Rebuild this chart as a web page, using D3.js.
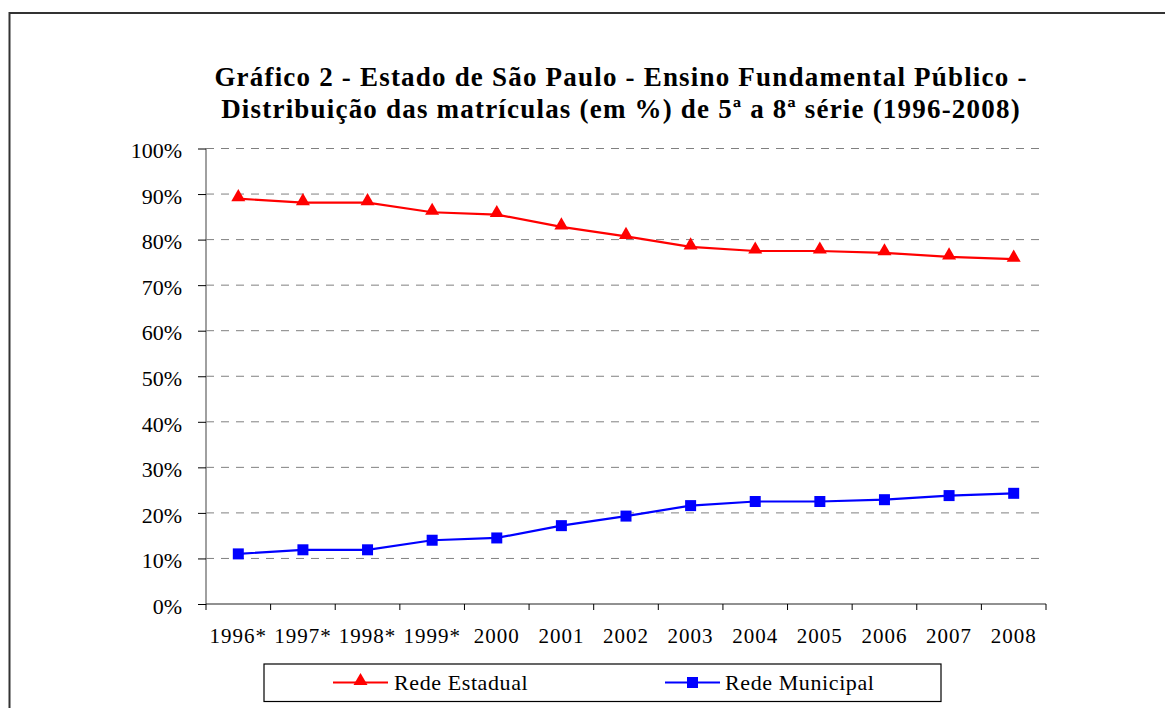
<!DOCTYPE html>
<html><head><meta charset="utf-8">
<script src="https://cdn.jsdelivr.net/npm/d3@7"></script>
<style>body{margin:0;background:#fff;} svg{display:block;}</style>
</head><body>
<svg id="c" width="1165" height="708"></svg>
<script>
const categories = ["1996*","1997*","1998*","1999*","2000","2001","2002","2003","2004","2005","2006","2007","2008"];
const estadual = [89.0, 88.1, 88.1, 86.0, 85.5, 82.8, 80.7, 78.4, 77.5, 77.5, 77.1, 76.2, 75.7];
const municipal = [11.0, 11.9, 11.9, 14.0, 14.5, 17.2, 19.3, 21.6, 22.5, 22.5, 22.9, 23.8, 24.3];
const yTicks = [0,10,20,30,40,50,60,70,80,90,100];
const titleLines = ["Gráfico 2 - Estado de São Paulo - Ensino Fundamental Público -",
                    "Distribuição das matrículas (em %) de 5ª a 8ª série (1996-2008)"];
const seriesNames = ["Rede Estadual","Rede Municipal"];

const svg = d3.select("#c");
const font = "'Liberation Serif','Times New Roman',serif";
const L = 206, R = 1046, T = 148.5, B = 604;

// outer frame
svg.append("path").attr("d", `M9.5,708 L9.5,13 L1165,13`).attr("fill","none")
  .attr("stroke","#333").attr("stroke-width",2);

// title
svg.selectAll("text.title").data(titleLines).join("text")
  .attr("x", 621).attr("y", (d,i)=>86 + i*32)
  .attr("text-anchor","middle").attr("font-family",font).attr("font-weight","bold")
  .attr("font-size",27).attr("letter-spacing","1.2px").text(d=>d);

const x = d3.scaleBand().domain(categories).range([L,R]);
const y = d3.scaleLinear().domain([0,100]).range([B,T]);

// gridlines
svg.append("g").selectAll("line").data(yTicks.filter(d=>d>0)).join("line")
  .attr("x1",L).attr("x2",R).attr("y1",d=>y(d)).attr("y2",d=>y(d))
  .attr("stroke","#808080").attr("stroke-width",1).attr("stroke-dasharray","8,7");

// y axis
const yAx = svg.append("g").attr("transform",`translate(${L},0)`)
  .call(d3.axisLeft(y).tickValues(yTicks).tickSize(8).tickPadding(16).tickFormat(d=>d+"%"));
yAx.select(".domain").attr("stroke","#808080").attr("stroke-width",1.5).attr("d",`M0,${T}V${B}`);
yAx.selectAll(".tick line").attr("stroke","#000");
yAx.selectAll("text").attr("font-family",font).attr("font-size",22).attr("fill","#000").attr("dy","0.42em");

// x axis
const xAx = svg.append("g").attr("transform",`translate(0,${B})`)
  .call(d3.axisBottom(x).tickSize(0).tickPadding(24));
xAx.select(".domain").attr("stroke","#222").attr("stroke-width",1).attr("d",`M${L},0H${R}`);
xAx.selectAll("text").attr("font-family",font).attr("font-size",21).attr("letter-spacing","1px").attr("fill","#000");
// category boundary ticks
const bounds = categories.map(c=>x(c)).concat([R]);
svg.append("g").selectAll("line").data(bounds).join("line")
  .attr("x1",d=>d).attr("x2",d=>d).attr("y1",B).attr("y2",B+6)
  .attr("stroke","#000").attr("stroke-width",1);

const cx = c => x(c) + x.bandwidth()/2;
const line = d3.line().x((d,i)=>cx(categories[i])).y(d=>y(d));

// Estadual
svg.append("path").datum(estadual).attr("d",line).attr("fill","none")
  .attr("stroke","#ff0000").attr("stroke-width",2.2);
const tri = d3.symbol().type(d3.symbolTriangle).size(85);
svg.append("g").selectAll("path").data(estadual).join("path")
  .attr("d",tri).attr("transform",(d,i)=>`translate(${cx(categories[i])},${y(d)-1.5})`)
  .attr("fill","#ff0000");

// Municipal
svg.append("path").datum(municipal).attr("d",line).attr("fill","none")
  .attr("stroke","#0000ff").attr("stroke-width",2.2);
svg.append("g").selectAll("rect").data(municipal).join("rect")
  .attr("x",(d,i)=>cx(categories[i])-5.5).attr("y",d=>y(d)-5.5)
  .attr("width",11).attr("height",11).attr("fill","#0000ff");

// legend
const lg = svg.append("g");
lg.append("rect").attr("x",264).attr("y",664).attr("width",677).attr("height",37.5)
  .attr("fill","#fff").attr("stroke","#000").attr("stroke-width",1.2);
const items = [{x1:333,x2:388,tx:394,color:"#ff0000",type:"tri"},{x1:665,x2:720,tx:725,color:"#0000ff",type:"sq"}];
items.forEach((it,i)=>{
  lg.append("line").attr("x1",it.x1).attr("x2",it.x2).attr("y1",682.5).attr("y2",682.5)
    .attr("stroke",it.color).attr("stroke-width",2.2);
  const mx=(it.x1+it.x2)/2;
  if(it.type==="tri"){
    lg.append("path").attr("d",tri).attr("transform",`translate(${mx},${681})`).attr("fill",it.color);
  } else {
    lg.append("rect").attr("x",mx-5.5).attr("y",677).attr("width",11).attr("height",11).attr("fill",it.color);
  }
  lg.append("text").attr("x",it.tx).attr("y",689.5).attr("font-family",font).attr("font-size",22)
    .attr("letter-spacing","0.6px").attr("fill","#000").text(seriesNames[i]);
});
</script>
</body></html>
